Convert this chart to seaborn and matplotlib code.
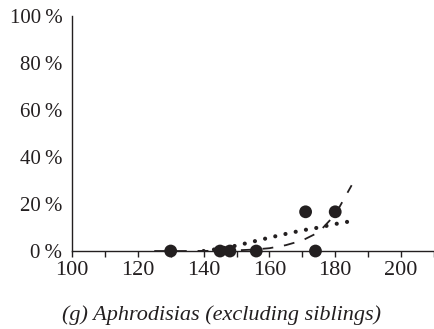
import matplotlib
matplotlib.use("Agg")
import matplotlib.pyplot as plt
import seaborn as sns
import pandas as pd

# observed points
obs_x = [130, 145, 148, 156, 174, 171, 180]
obs_y = [0, 0, 0, 0, 0, 16.7, 16.7]

# dashed trend
dash_x = [125, 135, 145, 150, 155, 160, 165, 170, 175, 180, 185]
dash_y = [0, 0, 0.1, 0.3, 0.6, 1.2, 2.5, 4.5, 8.0, 15.5, 28.0]

# dotted trend
dot_x = [140, 145, 150, 155, 160, 165, 170, 175, 180, 186]
dot_y = [0.0, 1.0, 2.3, 4.0, 5.7, 7.3, 8.8, 10.0, 11.5, 13.0]

x_ticks = [100, 120, 140, 160, 180, 200]
y_ticks = [0, 20, 40, 60, 80, 100]
y_labels = ["0\u2009%", "20\u2009%", "40\u2009%", "60\u2009%", "80\u2009%", "100\u2009%"]
caption = "(g) Aphrodisias (excluding siblings)"

sns.set_style("white")
plt.rcParams["font.family"] = ["Liberation Serif", "DejaVu Serif"]

fig = plt.figure(figsize=(4.35, 3.29), dpi=100)
ax = fig.add_axes([0.1655, 0.237, 0.832, 0.714])

df_dash = pd.DataFrame({"x": dash_x, "y": dash_y})
df_dot = pd.DataFrame({"x": dot_x, "y": dot_y})
df_obs = pd.DataFrame({"x": obs_x, "y": obs_y})

sns.lineplot(data=df_dash, x="x", y="y", ax=ax, color="#231f20", lw=1.3,
             dashes=False, linestyle=(0, (6, 6)))
sns.lineplot(data=df_dot, x="x", y="y", ax=ax, color="#231f20", lw=3.0)
ax.lines[-1].set_linestyle((0, (0.01, 2.5)))
ax.lines[-1].set_dash_capstyle("round")
sns.scatterplot(data=df_obs, x="x", y="y", ax=ax, color="#231f20", s=85,
                edgecolor="none", clip_on=False, zorder=5)

ax.set_xlim(100, 210)
ax.set_ylim(0, 100)
ax.set_xticks(list(range(100, 211, 10)))
ax.set_xticklabels([str(v) if v in x_ticks else "" for v in range(100, 211, 10)])
ax.set_yticks(y_ticks)
ax.set_yticklabels(y_labels)

for s in ["top", "right"]:
    ax.spines[s].set_visible(False)
for s in ["left", "bottom"]:
    ax.spines[s].set_color("#231f20")
    ax.spines[s].set_linewidth(1.0)

ax.tick_params(axis="x", direction="out", length=4, width=1.0, color="#231f20",
               labelsize=16, labelcolor="#231f20", pad=3, bottom=True)
ax.tick_params(axis="y", length=0, labelsize=15, labelcolor="#231f20", pad=7)

ax.set_xlabel("")
ax.set_ylabel("")
fig.text(0.51, 0.043, caption, fontsize=16, style="italic", color="#231f20",
         ha="center", va="center")

fig.savefig("out.png", dpi=100)
